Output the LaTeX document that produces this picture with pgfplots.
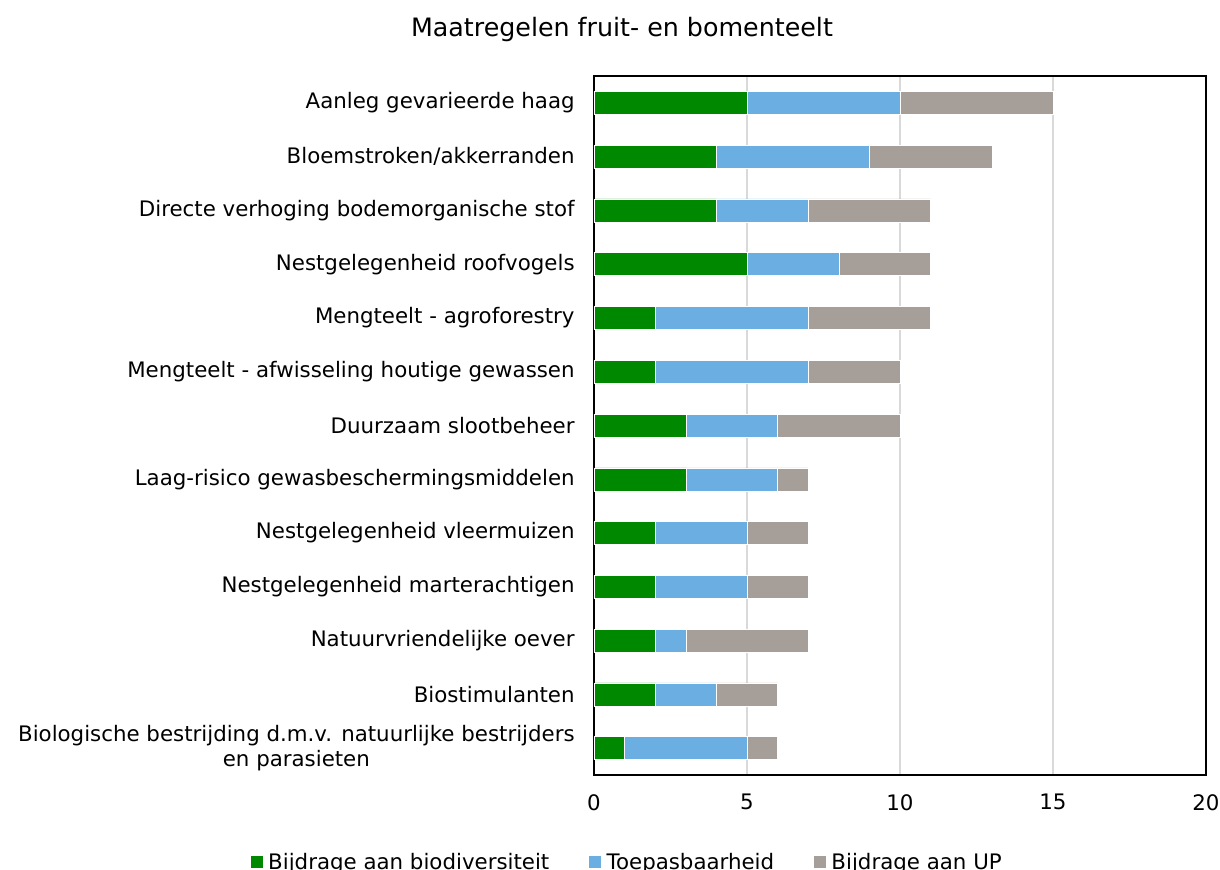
\documentclass[border=0pt]{standalone}
\usepackage{fontspec}
\setmainfont{DejaVu Sans}
\usepackage{pgfplots}
\usepackage{pgfplotstable}
\pgfplotsset{compat=1.18}
\definecolor{cg}{RGB}{0,137,0}
\definecolor{cb}{RGB}{107,174,226}
\definecolor{cu}{RGB}{166,158,152}
\definecolor{grd}{RGB}{217,217,217}
\pgfplotstableread{
idx g b u
0 5 5 5
1 4 5 4
2 4 3 4
3 5 3 3
4 2 5 4
5 2 5 3
6 3 3 4
7 3 3 1
8 2 3 2
9 2 3 2
10 2 1 4
11 2 2 2
12 1 4 1
}\datatab
\begin{document}
\begin{tikzpicture}
\begin{axis}[
  at={(0pt,0pt)}, anchor=south west,
  width=459pt, height=524.25pt, scale only axis,
  xbar stacked, bar width=17.25pt,
  xmin=0, xmax=20, xtick={0,5,10,15,20},
  ymin=-0.5, ymax=12.5, y dir=reverse,
  ytick={0,...,12},
  yticklabels={Aanleg gevarieerde haag,Bloemstroken/akkerranden,Directe verhoging bodemorganische stof,Nestgelegenheid roofvogels,Mengteelt - agroforestry,Mengteelt - afwisseling houtige gewassen,Duurzaam slootbeheer,Laag-risico gewasbeschermingsmiddelen,Nestgelegenheid vleermuizen,Nestgelegenheid marterachtigen,Natuurvriendelijke oever,Biostimulanten,{Biologische bestrijding d.m.v. natuurlijke bestrijders\\en parasieten}},
  major tick length=0pt,
  xmajorgrids, grid style={grd, line width=1.2pt},
  axis line style={black, line width=1.2pt},
  /pgf/number format/assume math mode=true,
  tick label style={font=\fontsize{16}{18.75}\selectfont},
  yticklabel style={align=center, xshift=-11pt},
  xticklabel style={yshift=-11pt},
  legend style={at={(axis description cs:0.055,-0.1245)}, anchor=center, draw=none,
    legend columns=3, font=\fontsize{16}{18}\selectfont,
    /tikz/every odd column/.append style={column sep=2pt},
    /tikz/every even column/.append style={column sep=28pt}},
  legend image code/.code={\fill[#1,draw=none] (0pt,-4.5pt) rectangle (9pt,4.5pt);},
]
\addplot[fill=cg, draw=white, line width=0.4pt] table[x=g, y=idx] {\datatab};
\addplot[fill=cb, draw=white, line width=0.4pt] table[x=b, y=idx] {\datatab};
\addplot[fill=cu, draw=white, line width=0.4pt] table[x=u, y=idx] {\datatab};
\legend{Bijdrage aan biodiversiteit, Toepasbaarheid, Bijdrage aan UP}
\end{axis}
\node[font=\fontsize{19}{22}\selectfont] at (21pt,559pt) {Maatregelen fruit- en bomenteelt};
\pgfresetboundingbox
\path (-445.5pt,-71.25pt) rectangle (469.5pt,581.25pt);
\end{tikzpicture}
\end{document}
